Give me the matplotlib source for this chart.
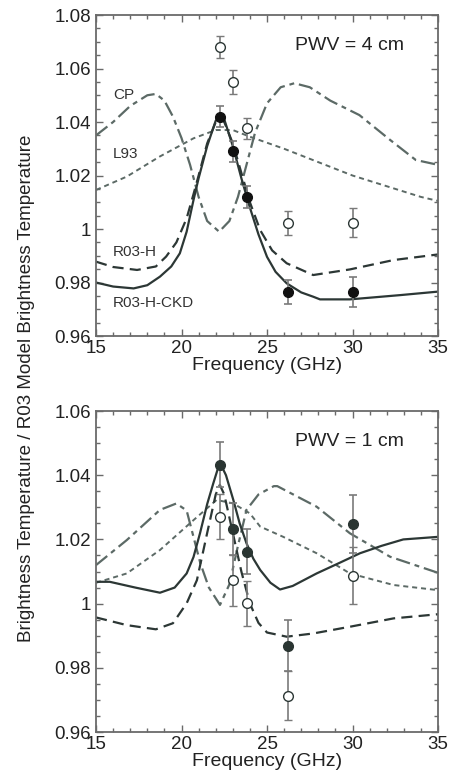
import matplotlib.pyplot as plt
import numpy as np
from matplotlib.ticker import MultipleLocator, FuncFormatter

plt.rcParams['font.family'] = ['Liberation Sans', 'DejaVu Sans']

# channel frequencies (GHz)
freq = [22.24, 23.04, 23.84, 26.24, 30.0]

# ---- PWV = 4 cm ----
top_filled = [1.042, 1.029, 1.012, 0.9765, 0.9765]
top_filled_err = [0.004, 0.004, 0.004, 0.0045, 0.0055]
top_open = [1.068, 1.055, 1.0376, 1.0024, 1.0024]
top_open_err = [0.0042, 0.0045, 0.004, 0.0045, 0.0054]

top_cp_x = [15, 16, 17, 18, 18.5, 19, 19.5, 20, 20.5, 21, 21.5, 22.2, 22.8, 23.3, 23.8,
            24.3, 25, 25.8, 26.6, 27.5, 28.7, 30.4, 32.2, 33.7, 35]
top_cp_y = [1.035, 1.040, 1.046, 1.050, 1.0505, 1.048, 1.042, 1.034, 1.024, 1.012, 1.003,
            0.999, 1.003, 1.012, 1.024, 1.036, 1.047, 1.053, 1.0545, 1.053, 1.048, 1.0426,
            1.0333, 1.0258, 1.024]

top_l93_x = [15, 16.8, 18.7, 20.7, 22.0, 23.0, 24.0, 26, 28, 30, 32, 34, 35]
top_l93_y = [1.0146, 1.0196, 1.027, 1.0339, 1.037, 1.037, 1.0345, 1.030, 1.025, 1.020,
             1.016, 1.012, 1.0105]

top_r03h_x = [15, 16, 17.4, 18.5, 19.1, 19.7, 20.3, 20.7, 21, 21.5, 22, 22.24, 22.5, 23,
              23.5, 24, 24.6, 25.3, 26.15, 27.7, 29.85, 32.4, 35]
top_r03h_y = [0.9878, 0.9858, 0.9847, 0.9860, 0.9897, 0.9950, 1.004, 1.013, 1.020, 1.032,
              1.040, 1.0415, 1.040, 1.032, 1.021, 1.010, 0.9996, 0.992, 0.9872, 0.9828,
              0.9849, 0.9884, 0.9905]

top_ckd_x = [15, 16, 17.2, 18.0, 18.74, 19.4, 19.9, 20.3, 20.7, 21, 21.5, 22, 22.24, 22.5,
             23, 23.5, 24, 24.5, 25, 25.5, 26.15, 27, 27.7, 28.1, 29.85, 32.8, 35]
top_ckd_y = [0.980, 0.9785, 0.9778, 0.9790, 0.9822, 0.9860, 0.9909, 0.999, 1.0108, 1.019,
             1.031, 1.0405, 1.0425, 1.041, 1.031, 1.019, 1.008, 0.998, 0.9896, 0.984,
             0.9797, 0.9763, 0.9747, 0.9737, 0.9737, 0.9753, 0.9766]

# ---- PWV = 1 cm ----
bot_filled = [1.0432, 1.0232, 1.0162, 0.9869, 1.0247]
bot_filled_err = [0.007, 0.008, 0.007, 0.008, 0.009]
bot_open = [1.0271, 1.0073, 1.0001, 0.9713, 1.0087]
bot_open_err = [0.007, 0.008, 0.007, 0.0076, 0.0088]

bot_cp_x = [15, 16.8, 18.74, 19.7, 20.3, 21.1, 21.6, 22.25, 22.8, 23.3, 23.8, 24.5, 25.4,
            25.6, 27.9, 29.85, 32.2, 35]
bot_cp_y = [1.012, 1.0198, 1.0292, 1.0312, 1.029, 1.0126, 1.005, 0.9996, 1.006, 1.018,
            1.0292, 1.034, 1.0366, 1.0366, 1.0302, 1.0219, 1.0146, 1.0096]

bot_l93_x = [15, 16.8, 18.74, 20.7, 22.05, 23.03, 24.0, 24.6, 25.95, 27.9, 29.85, 32.4, 35]
bot_l93_y = [1.0065, 1.0094, 1.0167, 1.026, 1.0323, 1.0312, 1.0281, 1.024, 1.0208, 1.0157,
             1.0094, 1.0058, 1.0042]

bot_r03h_x = [15, 16.8, 18.5, 19.5, 20.3, 20.9, 21.5, 22, 22.24, 22.5, 23, 23.5, 24,
              24.5, 25, 26.15, 27.7, 29.85, 32.4, 35]
bot_r03h_y = [0.9957, 0.9933, 0.992, 0.9939, 1.0001, 1.0073, 1.022, 1.034, 1.037, 1.034,
              1.022, 1.010, 1.000, 0.994, 0.991, 0.9897, 0.9907, 0.9928, 0.9954, 0.9967]

bot_ckd_x = [15, 15.8, 17.3, 18.74, 19.6, 20.3, 20.7, 21.08, 21.5, 21.86, 22.24, 22.6,
             23.03, 23.4, 23.8, 24.2, 24.6, 25.2, 25.76, 26.5, 27.9, 29.2, 30.44, 31.7,
             32.97, 35]
bot_ckd_y = [1.0068, 1.0068, 1.005, 1.0034, 1.005, 1.0094, 1.0145, 1.0219, 1.031, 1.0375,
             1.044, 1.040, 1.0323, 1.025, 1.0188, 1.014, 1.0105, 1.0065, 1.0044, 1.0055,
             1.0094, 1.0126, 1.0157, 1.018, 1.020, 1.0208]

solid_c = '#2c3735'
dash_c = '#5c6a66'
err_c = '#7a7a7a'
axis_c = '#6a6a6a'


def fmt(v, pos):
    if abs(v - 1) < 1e-9:
        return '1'
    return f'{v:.2f}'


def draw(ax, cp, l93, r03h, ckd, filled, ferr, opn, oerr, ylim, fill_c):
    ax.plot(cp[0], cp[1], color=dash_c, lw=1.6, dashes=(6.5, 2.2, 2.2, 2.2))
    ax.plot(l93[0], l93[1], color=dash_c, lw=1.4, dashes=(2.6, 2.0))
    ax.plot(r03h[0], r03h[1], color=solid_c, lw=1.6, dashes=(5.0, 2.8))
    ax.plot(ckd[0], ckd[1], color=solid_c, lw=1.6)
    ax.errorbar(freq, opn, yerr=oerr, fmt='o', ms=7, mfc='white', mec=solid_c, mew=1.0,
                ecolor=err_c, elinewidth=1.2, capsize=3, capthick=1.2, zorder=5)
    ax.errorbar(freq, filled, yerr=ferr, fmt='o', ms=7, mfc=fill_c, mec=fill_c,
                ecolor=err_c, elinewidth=1.2, capsize=3, capthick=1.2, zorder=6)
    ax.set_xlim(15, 35)
    ax.set_ylim(*ylim)
    ax.xaxis.set_major_locator(MultipleLocator(5))
    ax.xaxis.set_minor_locator(MultipleLocator(1))
    ax.yaxis.set_major_locator(MultipleLocator(0.02))
    ax.yaxis.set_minor_locator(MultipleLocator(0.005))
    ax.yaxis.set_major_formatter(FuncFormatter(fmt))
    ax.tick_params(which='both', direction='in', top=True, right=True, color=axis_c,
                   labelsize=13.5, labelcolor='#222222')
    ax.tick_params(which='major', length=5, width=1)
    ax.tick_params(which='minor', length=3, width=1)
    ax.tick_params(axis='x', pad=3)
    for s in ax.spines.values():
        s.set_color(axis_c)
        s.set_linewidth(1.3)
    ax.set_xlabel('Frequency (GHz)', fontsize=14, color='#222222', labelpad=0)


fig = plt.figure(figsize=(4.51, 7.82), dpi=100)
ax1 = fig.add_axes([0.2129, 0.5703, 0.7583, 0.4105])
ax2 = fig.add_axes([0.2129, 0.0639, 0.7583, 0.4105])

draw(ax1, (top_cp_x, top_cp_y), (top_l93_x, top_l93_y), (top_r03h_x, top_r03h_y),
     (top_ckd_x, top_ckd_y), top_filled, top_filled_err, top_open, top_open_err,
     (0.96, 1.08), '#111111')
draw(ax2, (bot_cp_x, bot_cp_y), (bot_l93_x, bot_l93_y), (bot_r03h_x, bot_r03h_y),
     (bot_ckd_x, bot_ckd_y), bot_filled, bot_filled_err, bot_open, bot_open_err,
     (0.96, 1.06), '#2a3532')

ax1.text(0.9, 0.905, 'PWV = 4 cm', transform=ax1.transAxes, ha='right', va='center',
         fontsize=14, color='#222222')
ax2.text(0.9, 0.905, 'PWV = 1 cm', transform=ax2.transAxes, ha='right', va='center',
         fontsize=14, color='#222222')

for label, yv in [('CP', 1.050), ('L93', 1.028), ('R03-H', 0.9915), ('R03-H-CKD', 0.9725)]:
    ax1.text(16.0, yv, label, fontsize=11, color='#333333', va='center', ha='left')

fig.text(0.058, 0.503, 'Brightness Temperature / R03 Model Brightness Temperature',
         rotation=90, ha='center', va='center', fontsize=13.5, color='#222222')

plt.savefig('out.png', dpi=100)
plt.close()
